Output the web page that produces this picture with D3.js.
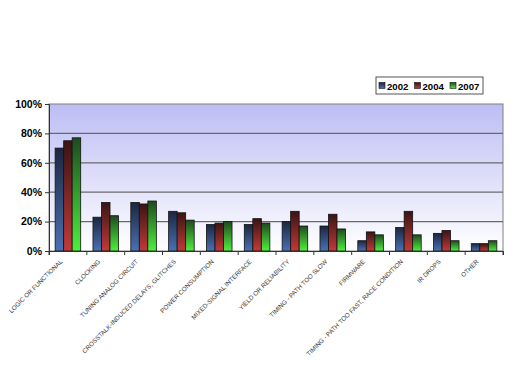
<!DOCTYPE html>
<html><head><meta charset="utf-8">
<script src="https://cdn.jsdelivr.net/npm/d3@7"></script>
<style>body{margin:0;background:#fff}svg{display:block}</style>
</head><body>
<script>
const categories = ["LOGIC OR FUNCTIONAL","CLOCKING","TUNING ANALOG CIRCUIT","CROSSTALK-INDUCED DELAYS, GLITCHES","POWER CONSUMPTION","MIXED-SIGNAL INTERFACE","YIELD OR RELIABILITY","TIMING - PATH TOO SLOW","FIRMWARE","TIMING - PATH TOO FAST, RACE CONDITION","IR DROPS","OTHER"];
const seriesNames = ["2002","2004","2007"];
const v2002 = [70,23,33,27,18,18,20,17,7,16,12,5];
const v2004 = [75,33,32,26,19,22,27,25,13,27,14,5];
const v2007 = [77,24,34,21,20,19,17,15,11,11,7,7];
const yTicks = [0,20,40,60,80,100];

const W=520,H=389;
const m={l:49,r:503,t:104,b:251};
const svg=d3.select("body").append("svg").attr("width",W).attr("height",H);
const defs=svg.append("defs");
const bg=defs.append("linearGradient").attr("id","bg").attr("x1",0).attr("y1",0).attr("x2",0).attr("y2",1);
bg.append("stop").attr("offset",0).attr("stop-color","#bdbdf5");
bg.append("stop").attr("offset",1).attr("stop-color","#ffffff");
const cols=[["#1b2640","#4a72b4"],["#3a1414","#c23a3a"],["#1d4a1d","#4ef03e"]];
cols.forEach((c,i)=>{
  const g=defs.append("linearGradient").attr("id","g"+i).attr("x1",0).attr("y1",0).attr("x2",0).attr("y2",1);
  g.append("stop").attr("offset",0).attr("stop-color",c[0]);
  g.append("stop").attr("offset",1).attr("stop-color",c[1]);
});

const x=d3.scaleBand().domain(categories).range([m.l,m.r]);
const y=d3.scaleLinear().domain([0,100]).range([m.b,m.t]);
const xs=d3.scaleBand().domain(seriesNames).range([0,x.bandwidth()]).paddingOuter(0.72).paddingInner(0);

svg.append("rect").attr("x",m.l).attr("y",m.t).attr("width",m.r-m.l).attr("height",m.b-m.t).attr("fill","url(#bg)").attr("stroke","#808080");

svg.append("g").selectAll("line").data(yTicks.slice(1,-1)).join("line")
 .attr("x1",m.l).attr("x2",m.r).attr("y1",d=>y(d)).attr("y2",d=>y(d)).attr("stroke","#6a6a6a").attr("stroke-width",1.2);

const data=[v2002,v2004,v2007];
const gs=svg.append("g");
data.forEach((vals,si)=>{
  gs.selectAll(null).data(vals).join("rect")
   .attr("x",(d,i)=>x(categories[i])+xs(seriesNames[si]))
   .attr("y",d=>y(d))
   .attr("width",xs.bandwidth())
   .attr("height",d=>y(0)-y(d))
   .attr("fill","url(#g"+si+")").attr("stroke","#111").attr("stroke-width",0.8);
});

const ya=svg.append("g").attr("transform",`translate(${m.l},0)`)
 .call(d3.axisLeft(y).tickValues(yTicks).tickFormat(d=>d+"%").tickSize(4).tickPadding(3));
ya.select(".domain").attr("stroke","#333");
ya.selectAll(".tick line").attr("stroke","#333");
ya.selectAll("text").attr("font-family","Liberation Sans, Arial, sans-serif").attr("font-weight","bold").attr("font-size","10.5px").attr("fill","#000");

const xa=svg.append("g").attr("transform",`translate(0,${m.b})`)
 .call(d3.axisBottom(x).tickSize(4).tickFormat(""));
xa.select(".domain").attr("stroke","#333");
xa.selectAll(".tick").attr("transform",d=>`translate(${x(d)},0)`);
xa.selectAll(".tick line").attr("stroke","#333");
svg.append("line").attr("x1",m.r).attr("x2",m.r).attr("y1",m.b).attr("y2",m.b+4).attr("stroke","#333");

svg.append("g").selectAll("text").data(categories).join("text")
 .attr("transform",d=>`translate(${x(d)+x.bandwidth()/2-5},${m.b+11}) rotate(-45)`)
 .attr("text-anchor","end").attr("font-family","Liberation Sans, Arial, sans-serif").attr("font-size","6.3px").attr("fill","#3a3a3a")
 .text(d=>d);

const lg=svg.append("g").attr("transform","translate(376,77)");
lg.append("rect").attr("width",107).attr("height",17).attr("fill","#fff").attr("stroke","#555");
seriesNames.forEach((s,i)=>{
  const gx=3+i*35.5;
  lg.append("rect").attr("x",gx).attr("y",5.5).attr("width",6).attr("height",6).attr("fill","url(#g"+i+")").attr("stroke","#111").attr("stroke-width",0.6);
  lg.append("text").attr("x",gx+8).attr("y",12.5).attr("font-family","Liberation Sans, Arial, sans-serif").attr("font-weight","bold").attr("font-size","9.6px").text(s);
});
</script>
</body></html>
